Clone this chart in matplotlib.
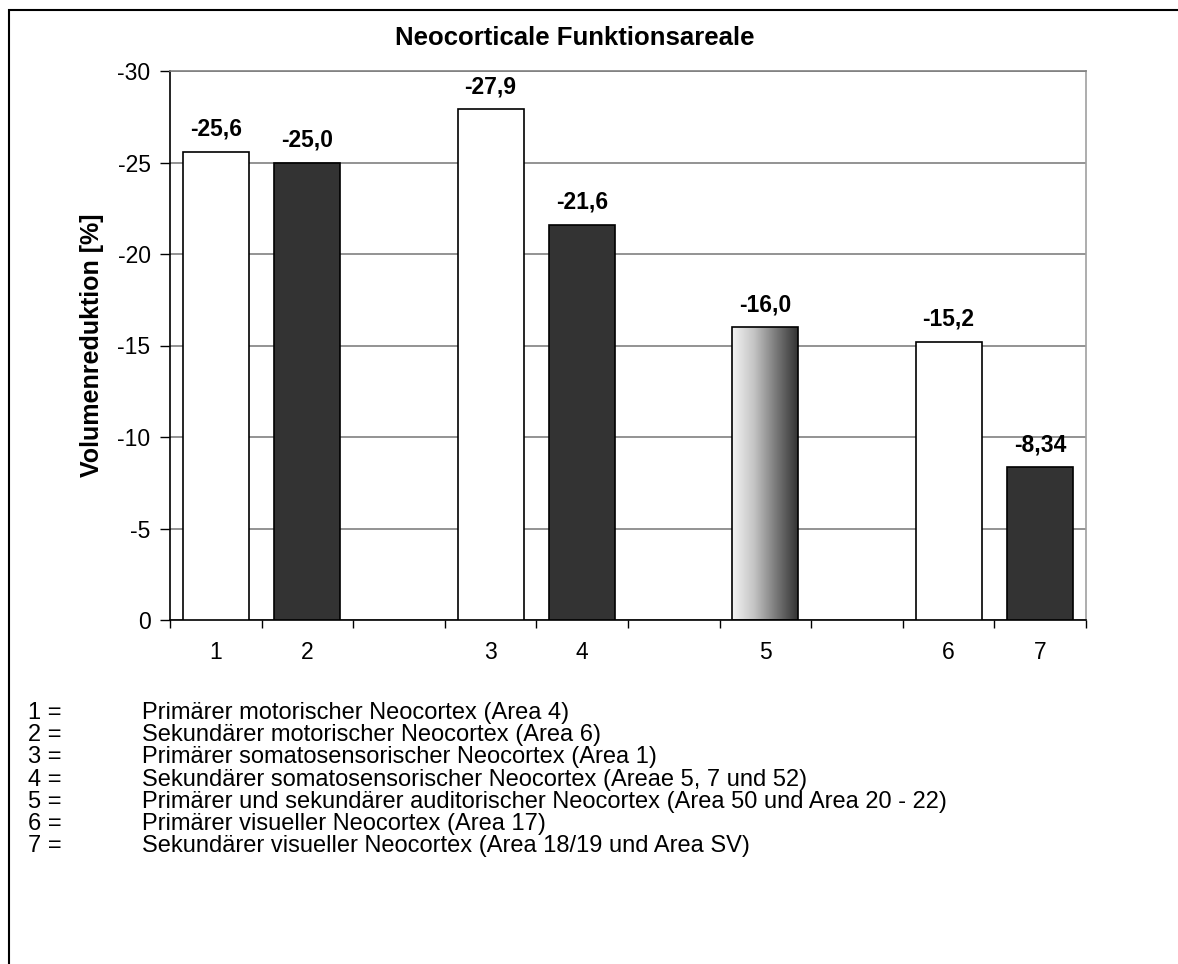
import numpy as np
import matplotlib.pyplot as plt
from matplotlib.patches import Rectangle
from matplotlib.colors import LinearSegmentedColormap

plt.rcParams['font.family'] = ['Liberation Sans', 'DejaVu Sans']

# Data
labels = ['1', '2', '3', '4', '5', '6', '7']
slots = [0, 1, 3, 4, 6, 8, 9]          # category slot (gaps between groups)
values = [-25.6, -25.0, -27.9, -21.6, -16.0, -15.2, -8.34]
value_text = ['-25,6', '-25,0', '-27,9', '-21,6', '-16,0', '-15,2', '-8,34']
fills = ['white', 'dark', 'white', 'dark', 'gradient', 'white', 'dark']
legend_items = [
    'Primärer motorischer Neocortex (Area 4)',
    'Sekundärer motorischer Neocortex (Area 6)',
    'Primärer somatosensorischer Neocortex (Area 1)',
    'Sekundärer somatosensorischer Neocortex (Areae 5, 7 und 52)',
    'Primärer und sekundärer auditorischer Neocortex (Area 50 und Area 20 - 22)',
    'Primärer visueller Neocortex (Area 17)',
    'Sekundärer visueller Neocortex (Area 18/19 und Area SV)',
]
n_slots = 10

W, H = 1178, 964
fig = plt.figure(figsize=(W / 100, H / 100), dpi=100)
ax = fig.add_axes([170 / W, 1 - 620 / H, 916 / W, 549 / H])

dark = '#333333'
width = 0.72
for s, v, f in zip(slots, values, fills):
    x = s + 0.5
    color = {'white': 'white', 'dark': dark, 'gradient': 'none'}[f]
    bars = ax.bar(x, v, width=width, color=color, edgecolor='black', linewidth=1.2, zorder=3)
    if f == 'gradient':
        cmap = LinearSegmentedColormap.from_list('g', ['#f4f4f4', '#c4c4c4', '#7a7a7a', '#333333'])
        grad = np.linspace(0, 1, 256).reshape(1, -1)
        im = ax.imshow(grad, cmap=cmap, aspect='auto', zorder=2,
                       extent=(x - width / 2, x + width / 2, v, 0))
        im.set_clip_path(bars[0])

for s, v, t in zip(slots, values, value_text):
    ax.text(s + 0.5, v - 0.6, t, ha='center', va='bottom',
            fontsize=16.5, fontweight='bold', zorder=4)

ax.set_xlim(0, n_slots)
ax.set_ylim(0, -30)
ax.set_yticks(np.arange(0, -31, -5))
ax.set_yticklabels(['0', '-5', '-10', '-15', '-20', '-25', '-30'], fontsize=16.5)
ax.yaxis.grid(True, color='#808080', linewidth=1.2, zorder=1)
ax.set_axisbelow(True)

ax.set_xticks([s + 0.5 for s in slots])
ax.set_xticklabels(labels, fontsize=16.5)
ax.set_xticks(np.arange(0, n_slots + 1), minor=True)
ax.tick_params(axis='x', which='major', length=0, pad=15)
ax.tick_params(axis='x', which='minor', length=6, direction='out', width=1, color='black')
ax.tick_params(axis='y', length=7, width=1, direction='out', pad=7)

ax.spines['left'].set_color('black')
ax.spines['bottom'].set_color('black')
ax.spines['top'].set_color('#808080')
ax.spines['right'].set_color('#a0a0a0')
for sp in ax.spines.values():
    sp.set_linewidth(1.2)

ax.set_ylabel('Volumenreduktion [%]', fontsize=18, fontweight='bold')
ax.yaxis.set_label_coords((104 - 170) / 916, 0.5)
fig.text(575 / W, 1 - 38 / H, 'Neocorticale Funktionsareale', ha='center', va='center',
         fontsize=18.5, fontweight='bold')

# legend text block
for i, txt in enumerate(legend_items):
    y = 1 - (713 + i * 22.2) / H
    fig.text(28 / W, y, f'{i + 1} =', ha='left', va='center', fontsize=17)
    fig.text(142 / W, y, txt, ha='left', va='center', fontsize=17)

# outer frame (cut off at right and bottom)
fig.patches.append(Rectangle((9 / W, -0.1), 1.2, 1 - 10 / H + 0.1, transform=fig.transFigure,
                             fill=False, edgecolor='black', linewidth=1.5))

fig.savefig('out.png', dpi=100)
